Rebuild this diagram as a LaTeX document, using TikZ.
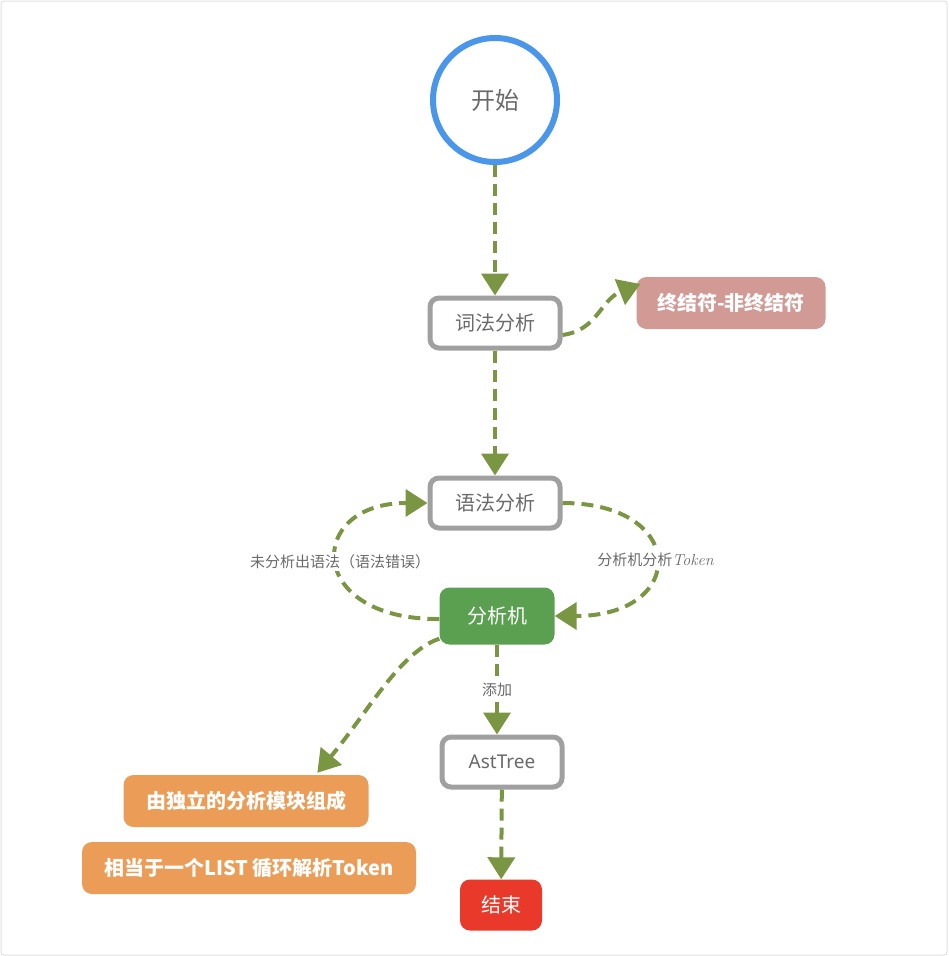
\documentclass[tikz,border=0pt]{standalone}
\usepackage{fontspec}
\newfontfamily\cjk{Noto Sans CJK SC}
\usetikzlibrary{arrows.meta,calc}
\definecolor{arrowgreen}{HTML}{7A9642}
\definecolor{boxgray}{HTML}{A0A0A0}
\definecolor{txtgray}{HTML}{6A6A6A}
\definecolor{startblue}{HTML}{4A96EA}
\definecolor{pinkbox}{HTML}{D19A95}
\definecolor{greenbox}{HTML}{5BA051}
\definecolor{orangebox}{HTML}{EB9D58}
\definecolor{redbox}{HTML}{E8392A}
\tikzset{
  graybox/.style={draw=boxgray, line width=5pt, rounded corners=9pt, fill=white,
    minimum width=130pt, minimum height=50pt, font=\cjk\fontsize{20}{24}\selectfont, text=txtgray},
  fillbox/.style={rounded corners=10pt, text=white, font=\cjk\bfseries\fontsize{20}{24}\selectfont,
    minimum height=52pt, inner xsep=10pt},
  flow/.style={draw=arrowgreen, line width=4pt, dash pattern=on 12pt off 7pt,
    -{Triangle[width=27pt,length=22pt,fill=arrowgreen]}},
  lbl/.style={fill=white, text=txtgray, font=\cjk\fontsize{15}{18}\selectfont, inner sep=2pt}
}
\begin{document}
\begin{tikzpicture}[x=1pt,y=-1pt]
\useasboundingbox (0,0) rectangle (948,956);
\draw[draw=black!12, line width=1pt, rounded corners=3pt] (1,1) rectangle (947,955);

\node[circle, draw=startblue, line width=6pt, minimum size=124pt, fill=white,
  font=\cjk\fontsize{24}{28}\selectfont, text=txtgray] (start) at (495,100) {开始};
\node[graybox] (lex) at (495,323) {词法分析};
\node[fillbox, fill=pinkbox, minimum width=189pt] (term) at (731,303) {终结符-非终结符};
\node[graybox] (syn) at (495,503) {语法分析};
\node[fillbox, fill=greenbox, minimum width=115pt, minimum height=57pt,
  font=\cjk\fontsize{20}{24}\selectfont] (mach) at (497,616) {分析机};
\node[graybox, minimum width=120pt, font=\fontspec{Noto Sans}\fontsize{19}{22}\selectfont] (ast) at (502,762) {AstTree};
\node[fillbox, fill=redbox, minimum width=82pt, minimum height=51pt, inner xsep=5pt,
  font=\cjk\fontsize{20}{24}\selectfont] (end) at (501,905) {结束};
\node[fillbox, fill=orangebox, minimum width=245pt] (mod) at (246,801) {由独立的分析模块组成};
\node[fillbox, fill=orangebox, minimum width=334pt] (list) at (249,868) {相当于一个LIST 循环解析Token};

\draw[flow] ([yshift=-12pt]lex.east) .. controls (598,330) and (600,300) .. ([xshift=4pt,yshift=19pt]term.west);
\draw[flow] (start) -- (lex);
\draw[flow] (lex) -- (syn);
\draw[flow] (syn.east) .. controls (688,503) and (688,616) .. (mach.east)
  node[lbl, pos=0.5] {分析机分析\textit{\fontspec{Latin Modern Roman}\fontsize{16}{18}\selectfont Token}};
\draw[flow] ([yshift=-3pt]mach.west) .. controls (305,620) and (305,503) .. (syn.west)
  node[lbl, pos=0.5, xshift=3pt] {未分析出语法（语法错误）};
\draw[flow] (mach.south) -- node[lbl, pos=0.5] {添加} (ast.north -| mach.south);
\draw[flow] ([yshift=6pt]mach.south west) .. controls (400,652) and (368,712) .. ([xshift=194pt,yshift=2pt]mod.north west);
\draw[flow] (ast) -- (end);
\end{tikzpicture}
\end{document}
